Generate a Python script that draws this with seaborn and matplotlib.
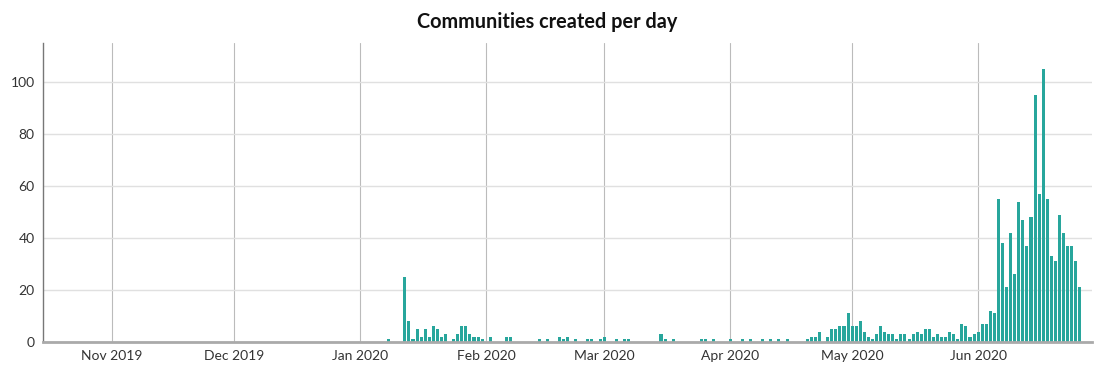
import pandas as pd
import matplotlib
matplotlib.use("Agg")
import matplotlib.pyplot as plt
import matplotlib.dates as mdates
import seaborn as sns

sns.set_theme(style="white")
plt.rcParams["font.family"] = ["Lato", "DejaVu Sans"]

# Dni z nowymi społecznościami (pozostałe dni = 0)
dates = [
    "2020-01-08", "2020-01-12", "2020-01-13", "2020-01-14", "2020-01-15", "2020-01-16",
    "2020-01-17", "2020-01-18", "2020-01-19", "2020-01-20", "2020-01-21", "2020-01-22",
    "2020-01-24", "2020-01-25", "2020-01-26", "2020-01-27", "2020-01-28", "2020-01-29",
    "2020-01-30", "2020-01-31", "2020-02-02", "2020-02-06", "2020-02-07", "2020-02-14",
    "2020-02-16", "2020-02-19", "2020-02-20", "2020-02-21", "2020-02-23", "2020-02-26",
    "2020-02-27", "2020-02-29", "2020-03-01", "2020-03-04", "2020-03-06", "2020-03-07",
    "2020-03-15", "2020-03-16", "2020-03-18", "2020-03-25", "2020-03-26", "2020-03-28",
    "2020-04-01", "2020-04-04", "2020-04-06", "2020-04-09", "2020-04-11", "2020-04-13",
    "2020-04-15", "2020-04-20", "2020-04-21", "2020-04-22", "2020-04-23", "2020-04-25",
    "2020-04-26", "2020-04-27", "2020-04-28", "2020-04-29", "2020-04-30", "2020-05-01",
    "2020-05-02", "2020-05-03", "2020-05-04", "2020-05-05", "2020-05-06", "2020-05-07",
    "2020-05-08", "2020-05-09", "2020-05-10", "2020-05-11", "2020-05-12", "2020-05-13",
    "2020-05-14", "2020-05-15", "2020-05-16", "2020-05-17", "2020-05-18", "2020-05-19",
    "2020-05-20", "2020-05-21", "2020-05-22", "2020-05-23", "2020-05-24", "2020-05-25",
    "2020-05-26", "2020-05-27", "2020-05-28", "2020-05-29", "2020-05-30", "2020-05-31",
    "2020-06-01", "2020-06-02", "2020-06-03", "2020-06-04", "2020-06-05", "2020-06-06",
    "2020-06-07", "2020-06-08", "2020-06-09", "2020-06-10", "2020-06-11", "2020-06-12",
    "2020-06-13", "2020-06-14", "2020-06-15", "2020-06-16", "2020-06-17", "2020-06-18",
    "2020-06-19", "2020-06-20", "2020-06-21", "2020-06-22", "2020-06-23", "2020-06-24",
    "2020-06-25", "2020-06-26",
]
counts = [
    1, 25, 8, 1, 5, 2,
    5, 2, 6, 5, 2, 3,
    1, 3, 6, 6, 3, 2,
    2, 1, 2, 2, 2, 1,
    1, 2, 1, 2, 1, 1,
    1, 1, 2, 1, 1, 1,
    3, 1, 1, 1, 1, 1,
    1, 1, 1, 1, 1, 1,
    1, 1, 2, 2, 4, 2,
    5, 5, 6, 6, 11, 6,
    6, 8, 4, 2, 1, 3,
    6, 4, 3, 3, 1, 3,
    3, 1, 3, 4, 3, 5,
    5, 2, 3, 2, 2, 4,
    3, 1, 7, 6, 2, 3,
    4, 7, 7, 12, 11, 55,
    38, 21, 42, 26, 54, 47,
    37, 48, 95, 57, 105, 55,
    33, 31, 49, 42, 37, 37,
    31, 21,
]

df = pd.DataFrame({"date": pd.to_datetime(dates), "count": counts})
df["x"] = mdates.date2num(df["date"])

fig = plt.figure(figsize=(11.1, 3.84), dpi=100)
ax = fig.add_axes([43 / 1110, 1 - 342 / 384, (1092 - 43) / 1110, (342 - 43) / 384])

sns.barplot(data=df, x="x", y="count", native_scale=True, width=0.75,
            color="#28a69c", saturation=1, edgecolor="none", ax=ax)

ax.set_xlim(mdates.date2num(pd.Timestamp("2019-10-15")), mdates.date2num(pd.Timestamp("2020-06-29")))
ax.set_ylim(0, 115)
ax.set_yticks([0, 20, 40, 60, 80, 100])
ax.xaxis.set_major_locator(mdates.MonthLocator())
ax.xaxis.set_major_formatter(mdates.DateFormatter("%b %Y"))

ax.yaxis.grid(True, color="#e0e0e0", linewidth=1)
ax.xaxis.grid(True, color="#bbbbbb", linewidth=0.8)
ax.set_axisbelow(True)

for side in ["top", "right"]:
    ax.spines[side].set_visible(False)
ax.spines["left"].set_color("#777777")
ax.spines["left"].set_linewidth(1)
ax.spines["bottom"].set_color("#aaaaaa")
ax.spines["bottom"].set_linewidth(2)

ax.tick_params(axis="both", length=0, labelsize=10, colors="#333333", pad=6)
ax.set_xlabel("")
ax.set_ylabel("")

fig.text(547 / 1110, 1 - 22 / 384, "Communities created per day", ha="center", va="center",
         fontsize=14.3, fontweight="bold", color="#111111")

fig.savefig("out.png", dpi=100)
